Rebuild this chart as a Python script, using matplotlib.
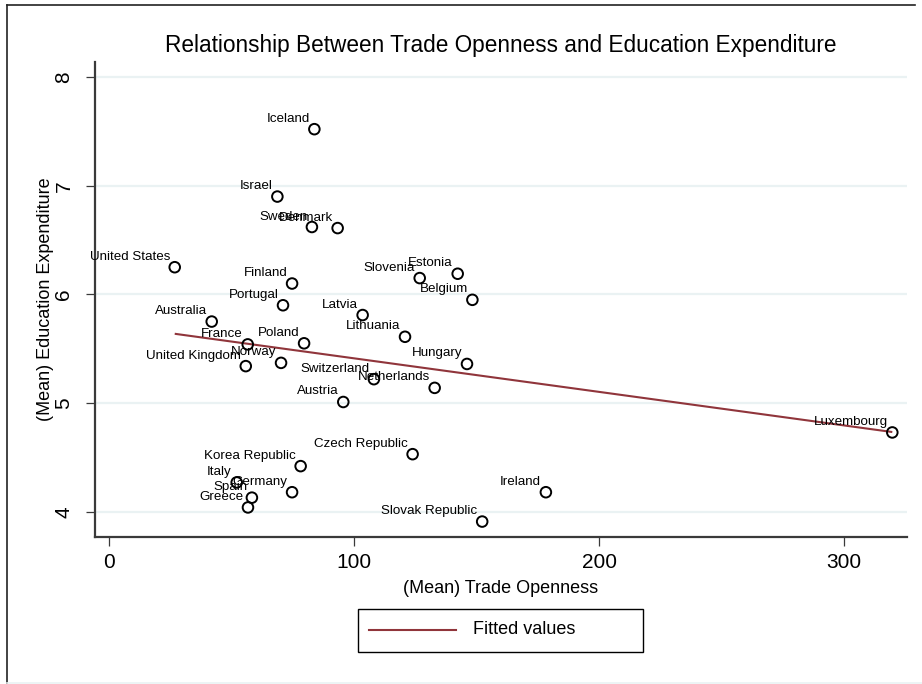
import numpy as np
import matplotlib
matplotlib.use("Agg")
import matplotlib.pyplot as plt
from matplotlib.lines import Line2D
from matplotlib.patches import Rectangle

plt.rcParams['font.family'] = ['Liberation Sans', 'DejaVu Sans']

countries = [
    "Iceland", "Israel", "Sweden", "Denmark", "United States", "Finland",
    "Slovenia", "Estonia", "Belgium", "Portugal", "Latvia", "Australia",
    "Lithuania", "Poland", "France", "Norway", "United Kingdom", "Hungary",
    "Switzerland", "Netherlands", "Austria", "Luxembourg", "Czech Republic",
    "Korea Republic", "Italy", "Germany", "Spain", "Greece", "Ireland",
    "Slovak Republic",
]
trade_openness = [
    83.7, 68.6, 82.7, 93.2, 26.7, 74.6,
    126.7, 142.2, 148.2, 70.9, 103.4, 41.8,
    120.7, 79.5, 56.5, 70.1, 55.7, 146.0,
    108.0, 132.8, 95.5, 319.6, 123.8,
    78.1, 52.0, 74.6, 58.2, 56.6, 178.2,
    152.2,
]
education_exp = [
    7.52, 6.90, 6.62, 6.61, 6.25, 6.10,
    6.15, 6.19, 5.95, 5.90, 5.81, 5.75,
    5.61, 5.55, 5.54, 5.37, 5.34, 5.36,
    5.22, 5.14, 5.01, 4.73, 4.53,
    4.42, 4.27, 4.18, 4.13, 4.04, 4.18,
    3.91,
]
x_ticks = [0, 100, 200, 300]
y_ticks = [4, 5, 6, 7, 8]

x = np.array(trade_openness)
y = np.array(education_exp)
slope, intercept = np.polyfit(x, y, 1)
x_fit = np.array([x.min(), x.max()])
y_fit = intercept + slope * x_fit

W, H = 922, 684
fig = plt.figure(figsize=(W / 100, H / 100), dpi=100)
fig.patch.set_facecolor("white")

left, right, bottom, top = 95, 907, 537, 62
ax = fig.add_axes([left / W, 1 - bottom / H, (right - left) / W, (bottom - top) / H])

grid_color = "#EAF2F3"
axis_color = "#3a3a3a"
fit_color = "#90353B"

for yt in y_ticks:
    ax.axhline(yt, color=grid_color, lw=1.6, zorder=0)

ax.plot(x_fit, y_fit, color=fit_color, lw=1.5, zorder=2, solid_capstyle="butt")
ax.scatter(x, y, s=58, facecolors="none", edgecolors="black", linewidths=1.4, zorder=3)

for name, xi, yi in zip(countries, x, y):
    ax.annotate(name, (xi, yi), xytext=(-3.4, 5.4), textcoords="offset points",
                ha="right", va="baseline", fontsize=9.6, color="black", zorder=4)

ax.set_xlim(-5.84, 325.6)
ax.set_ylim(3.768, 8.138)
ax.set_xticks(x_ticks)
ax.set_yticks(y_ticks)
ax.set_xticklabels([str(t) for t in x_ticks], fontsize=15)
ax.set_yticklabels([str(t) for t in y_ticks], fontsize=15, rotation=90, va="center")
ax.tick_params(axis="both", direction="out", length=6.5, width=0.9, color=axis_color)
ax.tick_params(axis="x", pad=5)
ax.tick_params(axis="y", pad=9)

for side in ["top", "right"]:
    ax.spines[side].set_visible(False)
for side in ["left", "bottom"]:
    ax.spines[side].set_color(axis_color)
    ax.spines[side].set_linewidth(1.6)

ax.set_xlabel("(Mean) Trade Openness", fontsize=13, labelpad=6)
ax.set_ylabel("(Mean) Education Expenditure", fontsize=13, labelpad=0)
ax.set_title("Relationship Between Trade Openness and Education Expenditure",
             fontsize=16.3, pad=7)

# legend box below the plot
lx0, lx1, ly0, ly1 = 358, 643, 609, 652
fig.add_artist(Rectangle((lx0 / W, 1 - ly1 / H), (lx1 - lx0) / W, (ly1 - ly0) / H,
                         transform=fig.transFigure, facecolor="white",
                         edgecolor="black", lw=1.0))
fig.add_artist(Line2D([369 / W, 456 / W], [1 - 630 / H, 1 - 630 / H],
                      transform=fig.transFigure, color=fit_color, lw=1.5))
fig.text(473 / W, 1 - 630 / H, "Fitted values", fontsize=13, ha="left", va="center")

# outer graph border
fig.add_artist(Line2D([7 / W, 915 / W], [1 - 5 / H, 1 - 5 / H],
                      transform=fig.transFigure, color="#222222", lw=1.2))
fig.add_artist(Line2D([7 / W, 7 / W], [1 - 5 / H, 0], transform=fig.transFigure,
                      color="#222222", lw=1.2))
fig.add_artist(Line2D([7 / W, 1], [1 - 683 / H, 1 - 683 / H],
                      transform=fig.transFigure, color=grid_color, lw=1.2))

fig.savefig("out.png", dpi=100)
